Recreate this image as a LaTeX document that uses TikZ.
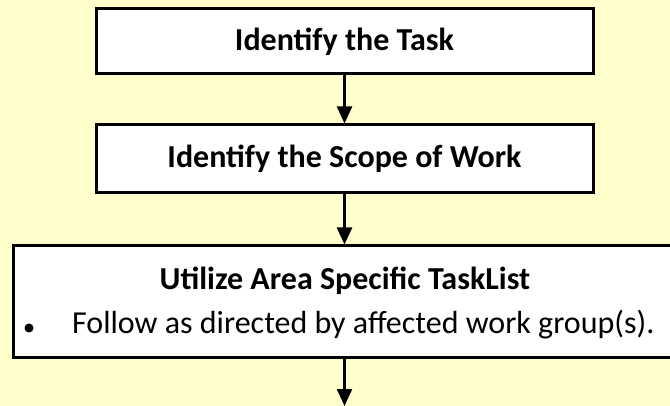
\documentclass[tikz,border=0pt]{standalone}
\usepackage{fontspec}
\setmainfont{Carlito}
\usetikzlibrary{arrows.meta}
\definecolor{paper}{HTML}{FFFFCC}
\newcommand\axisx{344.5}

\begin{document}
\begin{tikzpicture}[x=1pt, y=1pt, stepbox/.style = {draw, line width=3pt, fill=white, rectangle, inner sep=0pt}, flow/.style = {-{Triangle[width=15pt,length=17pt]}, line width=2.4pt}]
    \useasboundingbox (0,0) rectangle (670,-406);
    \fill[paper] (0,0) rectangle (670,-406);
    \clip (0,0) rectangle (670,-406);

    \node at (\axisx, -41.5) [stepbox, minimum width = 497pt, minimum height = 65pt] (task) {};
    \node at (\axisx, -159) [stepbox, minimum width = 497pt, minimum height = 68pt] (scope) {};
    \node at (345, -302) [stepbox, minimum width = 664pt, minimum height = 112pt] (list) {};

    \node at (task.center) [font=\fontsize{32}{38}\selectfont\bfseries] (tasktext) {Identify the Task};
    \node at (scope.center) [font=\fontsize{32}{38}\selectfont\bfseries] (scopetext) {Identify the Scope of Work};
    \node at (345, -281) [font=\fontsize{32}{38}\selectfont\bfseries] (listtext) {Utilize Area Specific TaskList};
    \node at (29, -328) [circle, fill, inner sep=0pt, minimum size=9pt] (dot) {};
    \node at (72, -325) [anchor=west, inner sep=0pt, font=\fontsize{32}{38}\selectfont] (follow) {Follow as directed by affected work group(s).};

    \coordinate (out) at (\axisx, -406);

    \draw[flow] (task.south -| \axisx, 0) -- (scope.north -| \axisx, 0);
    \draw[flow] (scope.south -| \axisx, 0) -- (list.north -| \axisx, 0);
    \draw[flow] (list.south -| \axisx, 0) -- (out);

\end{tikzpicture}
\end{document}
